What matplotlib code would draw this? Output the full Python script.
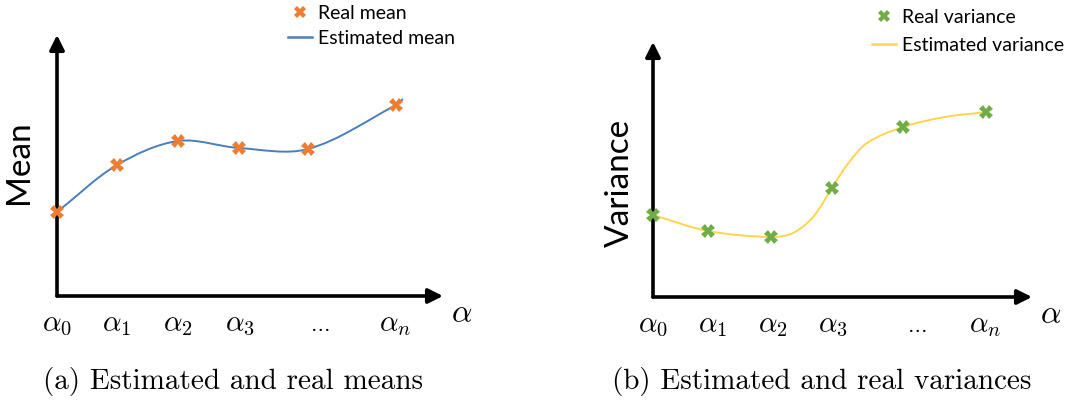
import matplotlib.pyplot as plt
import numpy as np
from matplotlib.path import Path
from matplotlib.patches import PathPatch
from matplotlib.lines import Line2D

plt.rcParams['mathtext.fontset'] = 'cm'

# tick labels along the alpha axis
alpha_labels = [r'$\alpha_0$', r'$\alpha_1$', r'$\alpha_2$', r'$\alpha_3$', '…', r'$\alpha_n$']

# (a) means
mean_x = [0, 60, 121, 182, 251, 339]
mean_real = [84, 131, 155, 148, 147, 191]
mean_est_x = [0, 60, 121, 182, 251, 339, 346]
mean_est = [84, 131, 155, 148, 147, 191, 197]
mean_ticks = [0, 60, 121, 183, 264, 338]

# (b) variances
var_x = [0, 55, 118, 179, 250, 333]
var_real = [82, 66, 60, 109, 170, 185]
var_est_x = [0, 55, 118, 140, 160, 179, 194, 214, 250, 292, 333]
var_est = [82, 66, 60, 64, 80, 109, 132, 154, 170, 180, 185]
var_ticks = [0, 60, 120, 180, 265, 332]

W, H = 1070, 403
fig = plt.figure(figsize=(W / 100, H / 100), dpi=100)


def smooth_path(xs, ys):
    # cubic hermite through the knots with chord-length scaled tangents
    pts = np.column_stack([xs, ys]).astype(float)
    ext = np.vstack([2 * pts[0] - pts[1], pts, 2 * pts[-1] - pts[-2]])
    d = np.linalg.norm(np.diff(ext, axis=0), axis=1)
    verts = [tuple(pts[0])]
    codes = [Path.MOVETO]
    for i in range(1, len(ext) - 2):
        p0, p1, p2, p3 = ext[i - 1], ext[i], ext[i + 1], ext[i + 2]
        d01, d12, d23 = d[i - 1], d[i], d[i + 1]
        m1 = (p2 - p0) / (d01 + d12)
        m2 = (p3 - p1) / (d12 + d23)
        c1 = p1 + m1 * d12 / 3
        c2 = p2 - m2 * d12 / 3
        verts += [tuple(c1), tuple(c2), tuple(p2)]
        codes += [Path.CURVE4] * 3
    return Path(verts, codes)


def panel(left, bottom_px, width, height, xs, real, est_x, est, ticks,
          mcolor, lcolor, ylabel, ylabel_xy, caption, cap_x,
          leg_labels, leg_xy, leg_spacing):
    ax = fig.add_axes([left / W, (H - bottom_px) / H, width / W, height / H])
    ax.set_xlim(0, width)
    ax.set_ylim(0, height)
    ax.axis('off')

    # arrowed axes
    for tip in [(1, 0), (0, 1)]:
        ax.annotate('', xy=tip, xytext=(0, 0), xycoords='axes fraction',
                    arrowprops=dict(arrowstyle='-|>', lw=2.6, color='black',
                                    mutation_scale=22, shrinkA=0, shrinkB=0))

    ax.add_patch(PathPatch(smooth_path(est_x, est), facecolor='none',
                           edgecolor=lcolor, lw=1.4, clip_on=False, zorder=3))
    ax.plot(xs, real, linestyle='none', marker='X', markersize=9.5,
            color=mcolor, markeredgewidth=0, clip_on=False, zorder=4)

    for t, lab in zip(ticks, alpha_labels):
        size = 14 if lab == '…' else 21
        ax.text(t, -35, lab, ha='center', va='baseline', fontsize=size,
                family='DejaVu Serif', clip_on=False)
    ax.text(width + 19, -26, r'$\alpha$', ha='center', va='baseline',
            fontsize=23, clip_on=False)

    fig.text(ylabel_xy[0] / W, 1 - ylabel_xy[1] / H, ylabel, rotation=90,
             ha='center', va='center', fontsize=24, family='Lato')
    fig.text(cap_x / W, 1 - 381 / H, caption, ha='center', va='center',
             fontsize=21, family='cmr10')

    handles = [Line2D([], [], linestyle='none', marker='X', markersize=8.5,
                      color=mcolor, markeredgewidth=0),
               Line2D([], [], color=lcolor, lw=1.8)]
    fig.legend(handles, leg_labels, loc='upper left', frameon=False,
               bbox_to_anchor=(leg_xy[0] / W, 1 - leg_xy[1] / H),
               prop=dict(family='Lato', size=14), handlelength=1.23,
               handletextpad=0.31, labelspacing=leg_spacing, borderpad=0,
               borderaxespad=0)
    return ax


panel(57, 296, 386, 261, mean_x, mean_real, mean_est_x, mean_est, mean_ticks,
      '#ED7D31', '#4A7EBB', 'Mean', (19, 162),
      '(a) Estimated and real means', 233,
      ['Real mean', 'Estimated mean'], (288, 5), 0.40)

panel(653, 297, 379, 255, var_x, var_real, var_est_x, var_est, var_ticks,
      '#70AD47', '#FFD54F', 'Variance', (620, 183),
      '(b) Estimated and real variances', 822,
      ['Real variance', 'Estimated variance'], (872, 9), 0.56)

fig.savefig('out.png', dpi=100)
